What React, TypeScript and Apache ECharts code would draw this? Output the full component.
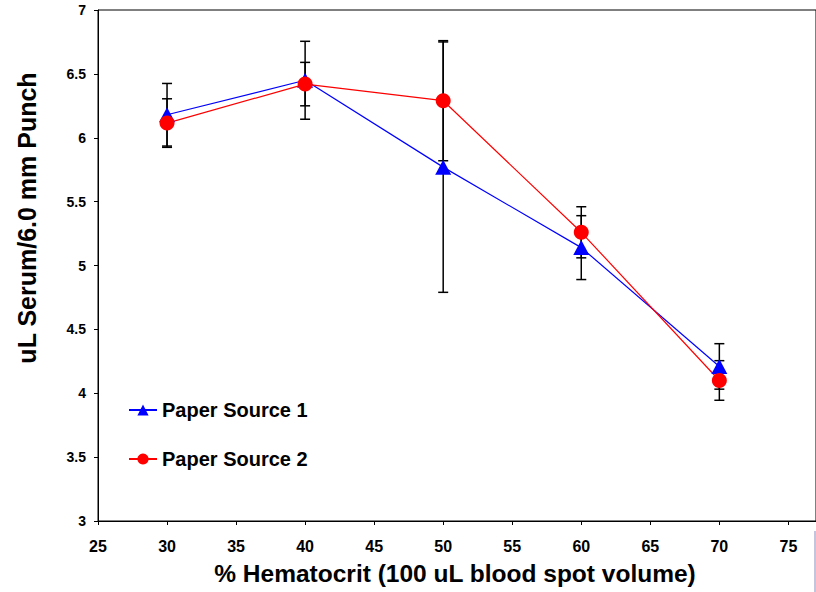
import React, { useEffect, useRef } from "react";
import * as echarts from "echarts";

const hematocrit = [30, 40, 50, 60, 70];
const source1 = [6.18, 6.45, 5.77, 5.14, 4.21];
const source1Err = [0.245, 0.305, 0.98, 0.25, 0.178];
const source2 = [6.115, 6.42, 6.29, 5.26, 4.1];
const source2Err = [0.19, 0.17, 0.47, 0.2, 0.155];
const seriesNames = ["Paper Source 1", "Paper Source 2"];
const xTitle = "% Hematocrit (100 uL blood spot volume)";
const yTitle = "uL Serum/6.0 mm Punch";

const FONT = "'Liberation Sans', Arial, sans-serif";

function errData(vals: number[], errs: number[]) {
  return hematocrit.map((h, i) => [h, vals[i] - errs[i], vals[i] + errs[i]]);
}

const renderErr = (params: any, api: any) => {
  const x = api.value(0);
  const lo = api.value(1);
  const hi = api.value(2);
  const pTop = api.coord([x, hi]);
  const pBot = api.coord([x, lo]);
  const w = 5;
  const style = { stroke: "#000", lineWidth: 1.5 };
  return {
    type: "group",
    children: [
      { type: "line", shape: { x1: pTop[0], y1: pTop[1], x2: pBot[0], y2: pBot[1] }, style },
      { type: "line", shape: { x1: pTop[0] - w, y1: pTop[1], x2: pTop[0] + w, y2: pTop[1] }, style },
      { type: "line", shape: { x1: pBot[0] - w, y1: pBot[1], x2: pBot[0] + w, y2: pBot[1] }, style },
    ],
  };
};

export default function App() {
  const ref = useRef<HTMLDivElement>(null);
  useEffect(() => {
    if (!ref.current) return;
    const chart = echarts.init(ref.current, null, { renderer: "svg" });
    chart.setOption({
      animation: false,
      backgroundColor: "#fff",
      grid: {
        left: 98,
        top: 10,
        width: 721.5,
        height: 511,
        show: true,
        borderColor: "#000",
        borderWidth: 1,
        containLabel: false,
      },
      legend: {
        orient: "vertical",
        left: 123,
        top: 395,
        padding: 5,
        itemWidth: 28,
        itemHeight: 14,
        itemGap: 29,
        data: seriesNames,
        textStyle: { fontFamily: FONT, fontWeight: "bold", fontSize: 20, color: "#000" },
      },
      xAxis: {
        type: "value",
        min: 25,
        max: 77,
        interval: 5,
        splitLine: { show: false },
        axisLine: { lineStyle: { color: "#000", width: 1 } },
        axisTick: { show: true, length: 4, lineStyle: { color: "#000" } },
        axisLabel: {
          margin: 17,
          showMaxLabel: false,
          fontFamily: FONT,
          fontWeight: "bold",
          fontSize: 16,
          color: "#000",
        },
      },
      yAxis: {
        type: "value",
        min: 3,
        max: 7,
        interval: 0.5,
        splitLine: { show: false },
        axisLine: { show: true, lineStyle: { color: "#000", width: 1 } },
        axisTick: { show: true, length: 4, lineStyle: { color: "#000" } },
        axisLabel: {
          margin: 12,
          fontFamily: FONT,
          fontWeight: "bold",
          fontSize: 14,
          color: "#000",
        },
      },
      graphic: [
        {
          type: "text",
          x: 27,
          y: 218,
          rotation: Math.PI / 2,
          style: {
            text: yTitle,
            fontFamily: FONT,
            fontWeight: "bold",
            fontSize: 25,
            fill: "#000",
            align: "center",
            verticalAlign: "middle",
          },
        },
        {
          type: "text",
          x: 455,
          y: 573,
          style: {
            text: xTitle,
            fontFamily: FONT,
            fontWeight: "bold",
            fontSize: 24.5,
            fill: "#000",
            align: "center",
            verticalAlign: "middle",
          },
        },
        {
          type: "line",
          shape: { x1: 815, y1: 531, x2: 815, y2: 592 },
          style: { stroke: "#c4c4dc", lineWidth: 2 },
        },
      ],
      series: [
        {
          type: "custom",
          name: "err1",
          renderItem: renderErr,
          data: errData(source1, source1Err),
          encode: { x: 0, y: [1, 2] },
          z: 1,
          silent: true,
        },
        {
          type: "custom",
          name: "err2",
          renderItem: renderErr,
          data: errData(source2, source2Err),
          encode: { x: 0, y: [1, 2] },
          z: 1,
          silent: true,
        },
        {
          type: "line",
          name: seriesNames[0],
          data: hematocrit.map((h, i) => [h, source1[i]]),
          symbol: "triangle",
          symbolSize: [16, 15],
          itemStyle: { color: "#0000ff" },
          lineStyle: { color: "#0000ff", width: 1.2 },
          z: 3,
        },
        {
          type: "line",
          name: seriesNames[1],
          data: hematocrit.map((h, i) => [h, source2[i]]),
          symbol: "circle",
          symbolSize: 15,
          itemStyle: { color: "#ff0000" },
          lineStyle: { color: "#ff0000", width: 1.2 },
          z: 3,
        },
      ],
    });
    return () => chart.dispose();
  }, []);
  return (
    <div
      ref={ref}
      style={{ position: "fixed", left: 0, top: 0, width: 816, height: 592, background: "#fff" }}
    />
  );
}
